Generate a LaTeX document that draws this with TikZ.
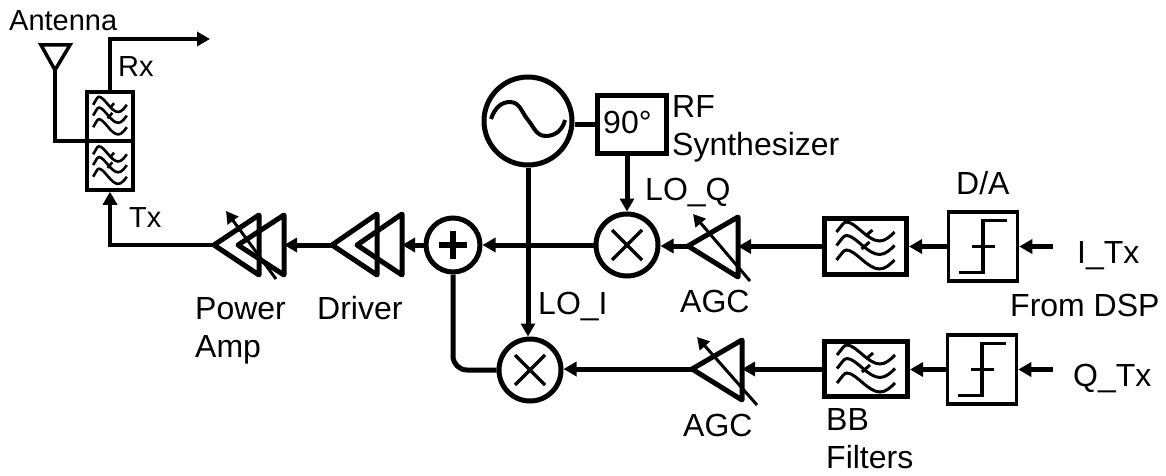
\documentclass[tikz,border=0pt]{standalone}
\usepackage{fontspec}
\setmainfont{Liberation Sans}
\usetikzlibrary{arrows.meta}
\tikzset{
  x=1pt,y=-1pt,
  heavy/.style={line width=5pt},
  medium/.style={line width=3.5pt},
  head/.style={-{Triangle[length=13pt,width=14pt]}},
  circ/.style={draw,circle,line width=5pt,inner sep=0pt,fill=white},
  boxb/.style={draw,rectangle,line width=5pt,inner sep=0pt},
  boxm/.style={draw,rectangle,line width=3.5pt,inner sep=0pt},
  amp/.style={line width=5pt,line join=round},
  lab/.style={anchor=base west,inner sep=0pt,font=\fontsize{32}{38}\selectfont,align=left},
  labs/.style={anchor=base west,inner sep=0pt,font=\fontsize{29}{34}\selectfont},
  tune/.style={line width=3pt,-{Triangle[length=12pt,width=13pt]}},
  wavefilter/.pic={
    \foreach \dy in {0,13.5,28}{
      \draw[shift={(0,\dy)}] (-29,-14) .. controls (-24,-20) and (-22,-24) .. (-19,-24)
        .. controls (-10,-24) and (2,-5) .. (14,-5) .. controls (20,-5) and (25,-10) .. (29,-14);
    }
    \draw (0,-10) -- (7,-16);
    \draw (-4,3) -- (4,-4);
  },
  stepsym/.pic={
    \draw (-24,26) -- (0,26) -- (0,-26) -- (24,-26);
    \draw (-11,0) -- (12,0);
  }
}
\begin{document}
\begin{tikzpicture}
\useasboundingbox (0,0) rectangle (1166,476);
% duplexer
\node[boxm,minimum width=46pt,minimum height=49pt] (fu) at (110,116.5) {};
\node[boxm,minimum width=46pt,minimum height=49pt] (fl) at (110,165.5) {};
\pic[xscale=.58,yscale=.8,line width=2.6pt] at (110,116) {wavefilter};
\pic[xscale=.58,yscale=.8,line width=2.6pt] at (110,165.5) {wavefilter};
% antenna
\coordinate (antL) at (41,45);
\coordinate (antR) at (70,45);
\coordinate (antB) at (55,70);
\coordinate (antJ) at (86,141);
\draw[medium,line join=miter] (antL) -- (antR) -- (antB) -- cycle;
\draw[medium] (antB) -- (antB |- antJ) -- (antJ);
% rx
\coordinate (rxEnd) at (210,39);
\draw[medium,head] (fu.north) |- (rxEnd);
% power amp
\coordinate (pa1) at (214,245); \coordinate (pa1t) at (259,215); \coordinate (pa1b) at (259,275);
\coordinate (pa2) at (238,245); \coordinate (pa2t) at (284,215); \coordinate (pa2b) at (284,275);
\draw[amp] (pa1) -- (pa1t) -- (pa1b) -- cycle;
\draw[amp] (pa2) -- (pa2t) -- (pa2b) -- cycle;
\coordinate (patS) at (276,279); \coordinate (patE) at (226,211);
\draw[tune] (patS) -- (patE);
\draw[medium,head] (pa1) -| (fl.south);
% driver
\coordinate (dr1) at (332,245); \coordinate (dr1t) at (377,214); \coordinate (dr1b) at (377,275);
\coordinate (dr2) at (357,245); \coordinate (dr2t) at (402,214); \coordinate (dr2b) at (402,275);
\draw[amp] (dr1) -- (dr1t) -- (dr1b) -- cycle;
\draw[amp] (dr2) -- (dr2t) -- (dr2b) -- cycle;
\draw[heavy,head] (dr1) -- (pa2t |- dr1);
% summer
\node[circ,minimum size=54pt] (sum) at (453,245) {};
\draw[line width=5.5pt] ([xshift=-14pt]sum.center) -- ([xshift=14pt]sum.center);
\draw[line width=5.5pt] ([yshift=-14pt]sum.center) -- ([yshift=14pt]sum.center);
\draw[heavy,head] (sum.west) -- (dr2t |- sum);
% oscillator
\node[circ,minimum size=88pt] (osc) at (528,121) {};
\draw[line width=4pt,shift={(osc.center)}] (-37,-2) .. controls (-33,-14) and (-26,-19) .. (-18,-19)
  .. controls (-8,-19) and (-6,-8) .. (0,-1) .. controls (6,6) and (8,15) .. (18,15)
  .. controls (28,15) and (35,8) .. (37,-1);
% 90
\node[boxb,minimum width=69pt,minimum height=58pt] (ph) at (632,124.5) {};
\node[lab] (ph90) at (603,133) {90°};
\draw[heavy] (osc.east |- ph.west) -- (ph.west);
% mixers
\node[circ,minimum size=62pt] (mq) at (627,245) {};
\node[circ,minimum size=62pt] (mi) at (530,370) {};
\draw[medium,shift={(mq.center)}] (-15,-15) -- (15,15) (-15,15) -- (15,-15);
\draw[medium,shift={(mi.center)}] (-15,-15) -- (15,15) (-15,15) -- (15,-15);
\draw[heavy,head] (mq.west) -- (sum.east);
\draw[heavy,head] (osc.south) -- (mi.north -| osc.south);
\draw[heavy,head] (ph.south -| mq.north) -- (mq.north);
\draw[heavy,rounded corners=14pt] (sum.south) |- (mi.west);
% AGC upper
\coordinate (aq) at (688,246); \coordinate (aqt) at (738,217); \coordinate (aqb) at (738,277);
\draw[amp] (aq) -- (aqt) -- (aqb) -- cycle;
\coordinate (aqS) at (750,281); \coordinate (aqE) at (693,214);
\draw[tune] (aqS) -- (aqE);
\draw[heavy,head] (aq) -- (mq.east |- aq);
% AGC lower
\coordinate (ai) at (692,369); \coordinate (ait) at (742,340); \coordinate (aib) at (742,400);
\draw[amp] (ai) -- (ait) -- (aib) -- cycle;
\coordinate (aiS) at (757,405); \coordinate (aiE) at (697,337);
\draw[tune] (aiS) -- (aiE);
\draw[heavy,head] (ai) -- (mi.east |- ai);
% BB filters
\node[boxb,minimum width=82pt,minimum height=56pt] (bq) at (865.5,246.5) {};
\node[boxb,minimum width=83pt,minimum height=55pt] (bi) at (866,369) {};
\pic[line width=3pt] at (865.5,246) {wavefilter};
\pic[line width=3pt] at (866,369) {wavefilter};
\draw[heavy,head] (bq.west) -- (aqt |- bq.west);
\draw[heavy,head] (bi.west) -- (ait |- bi.west);
% D/A
\node[boxm,minimum width=69pt,minimum height=69pt] (dq) at (983,246.5) {};
\node[boxm,minimum width=69pt,minimum height=69pt] (di) at (982,369.5) {};
\pic[line width=3.2pt] at (983,246.5) {stepsym};
\pic[line width=3.2pt] at (982,369.5) {stepsym};
\draw[heavy,head] (dq.west) -- (bq.east |- dq.west);
\draw[heavy,head] (di.west) -- (bi.east |- di.west);
\coordinate (iIn) at (1053,246.5);
\coordinate (qIn) at (1053,369.5);
\draw[heavy,head] (iIn) -- (dq.east);
\draw[heavy,head] (qIn) -- (di.east);
% labels
\node[labs] (lAnt) at (9,31) {Antenna};
\node[labs] (lRx) at (118,77) {Rx};
\node[labs] (lTx) at (129,227) {Tx};
\node[lab] (lRF) at (672,155) {RF\\Synthesizer};
\node[lab] (lPA) at (195,357) {Power\\Amp};
\node[lab] (lDr) at (317,319) {Driver};
\node[lab] (lLOQ) at (645,200) {LO\_Q};
\node[lab] (lLOI) at (538,314) {LO\_I};
\node[lab] (lAGCq) at (680,312) {AGC};
\node[lab] (lAGCi) at (683,436) {AGC};
\node[lab] (lBB) at (826,468) {BB\\Filters};
\node[lab] (lDA) at (956,194) {D/A};
\node[lab] (lI) at (1077,263) {I\_Tx};
\node[lab] (lFD) at (1010,316) {From DSP};
\node[lab] (lQ) at (1073,386) {Q\_Tx};
\end{tikzpicture}
\end{document}
